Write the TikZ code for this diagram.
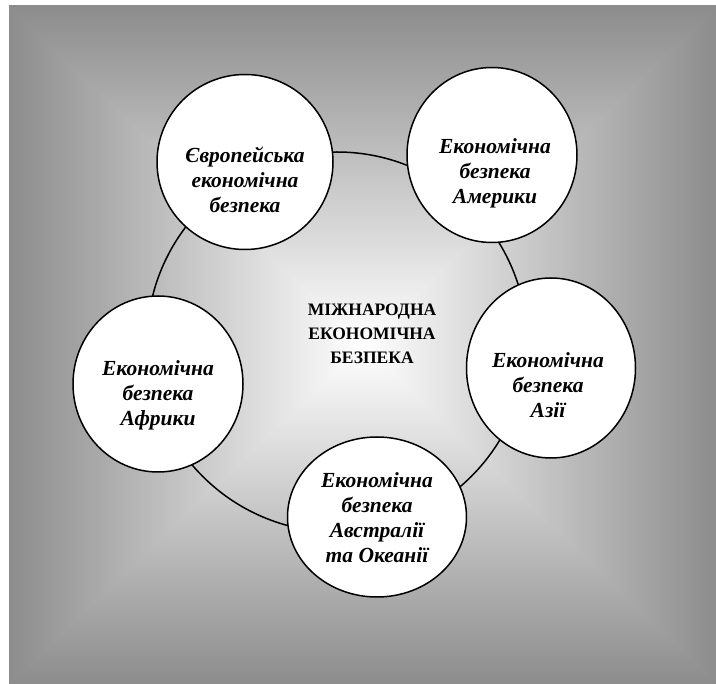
\documentclass[tikz,border=0pt]{standalone}
\usepackage{fontspec}
\setmainfont{Liberation Serif}
\usetikzlibrary{shapes.geometric}
\begin{document}
\begin{tikzpicture}[x=1pt,y=-1pt,
  bubble/.style={draw=black, line width=1.5pt, fill=white, ellipse, inner sep=0pt},
  btext/.style={align=center, inner sep=0pt, font=\fontsize{21.5}{25}\selectfont\bfseries\itshape},
  ctext/.style={align=center, inner sep=0pt, font=\fontsize{17.5}{24}\selectfont\bfseries}]
\useasboundingbox (0,0) rectangle (716,684);
\colorlet{edgegray}{black!45}
% rectangular ("from centre") gradient background
\shade[top color=edgegray, bottom color=white] (9,6) rectangle (716,345);
\shade[top color=white, bottom color=edgegray] (9,345) rectangle (716,684);
\begin{scope}
  \clip (9,6) -- (362.5,345) -- (9,684) -- cycle;
  \shade[left color=edgegray, right color=white] (9,6) rectangle (362.5,684);
\end{scope}
\begin{scope}
  \clip (716,6) -- (362.5,345) -- (716,684) -- cycle;
  \shade[left color=white, right color=edgegray] (362.5,6) rectangle (716,684);
\end{scope}
% main circle
\node[circle, draw=black, line width=1.5pt, minimum size=380pt, inner sep=0pt] (main) at (337,342) {};
\node[ctext] (mc) at (372,334) {МІЖНАРОДНА\\ЕКОНОМІЧНА\\БЕЗПЕКА};
% regional bubbles
\node[bubble, minimum width=176pt, minimum height=175pt] (eu) at (245,162) {};
\node[btext] (eut) at (245,180) {Європейська\\економічна\\безпека};
\node[bubble, minimum width=170pt, minimum height=175pt] (am) at (492,155) {};
\node[btext] (amt) at (495,173) {Економічна\\безпека\\Америки};
\node[bubble, minimum width=169pt, minimum height=180pt] (as) at (551,368) {};
\node[btext] (ast) at (548,385) {Економічна\\безпека\\Азії};
\node[bubble, minimum width=170pt, minimum height=176pt] (af) at (158,384) {};
\node[btext] (aft) at (158,395) {Економічна\\безпека\\Африки};
\node[bubble, minimum width=179pt, minimum height=160pt] (au) at (377,517) {};
\node[btext] (aut) at (377,518) {Економічна\\безпека\\Австралії\\та Океанії};
\end{tikzpicture}
\end{document}
